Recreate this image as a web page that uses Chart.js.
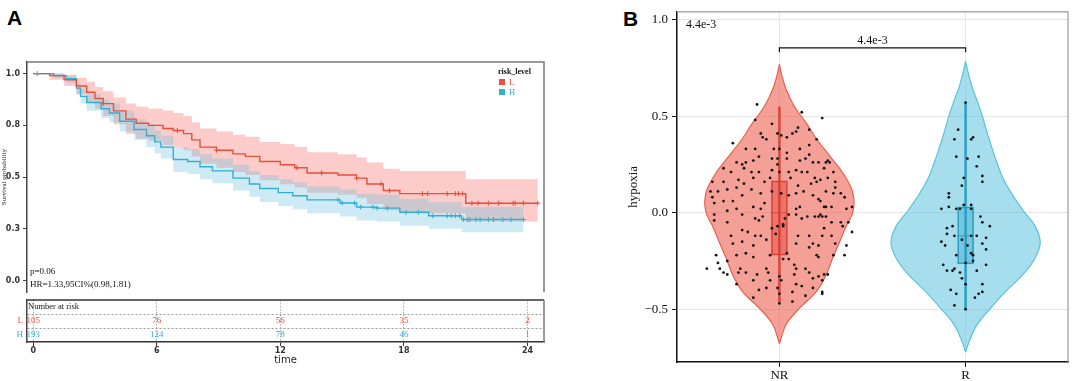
<!DOCTYPE html>
<html lang="en">
<head>
<meta charset="UTF-8">
<title>Risk level survival and hypoxia</title>
<script src="https://cdn.jsdelivr.net/npm/chart.js@4"></script>
<style>
  body { margin: 0; background: #fff; width: 1072px; height: 381px; position: relative; overflow: hidden; }
  canvas { position: absolute; }
  .panel { position: absolute; font: bold 21px "Liberation Sans", Arial, sans-serif; line-height: 21px; color: #000; }
</style>
</head>
<body>
<div class="panel" style="left:7px;top:7px">A</div>
<div class="panel" style="left:623px;top:8px">B</div>
<canvas id="km" width="560" height="300" style="left:0;top:0"></canvas>
<canvas id="risk" width="560" height="83" style="left:0;top:298px"></canvas>
<canvas id="violin" width="492" height="381" style="left:580px;top:0"></canvas>

<script>
// ---------- panel A : survival by risk level ----------
const lowTime  = [0, 0.8, 1.5, 2.1, 2.6, 3.0, 3.4, 3.9, 4.5, 5.0, 5.6, 6.3, 6.8, 7.3, 7.7, 8.1, 8.9, 9.7, 10.3, 11.0, 12.0, 12.7, 13.3, 14.8, 15.7, 16.2, 17.0, 17.8, 21.0, 24.5];
const lowSurv  = [1, 0.99, 0.97, 0.94, 0.91, 0.88, 0.855, 0.82, 0.78, 0.76, 0.75, 0.735, 0.725, 0.71, 0.68, 0.645, 0.63, 0.612, 0.6, 0.575, 0.56, 0.545, 0.52, 0.51, 0.495, 0.467, 0.435, 0.42, 0.374, 0.374];
const lowUpper = [1, 1, 0.995, 0.98, 0.96, 0.935, 0.915, 0.885, 0.855, 0.84, 0.83, 0.82, 0.81, 0.795, 0.765, 0.735, 0.72, 0.705, 0.695, 0.67, 0.66, 0.645, 0.62, 0.61, 0.595, 0.57, 0.54, 0.53, 0.49, 0.49];
const lowLower = [1, 0.97, 0.94, 0.9, 0.86, 0.83, 0.795, 0.755, 0.71, 0.685, 0.675, 0.655, 0.645, 0.63, 0.6, 0.565, 0.545, 0.525, 0.51, 0.485, 0.465, 0.45, 0.425, 0.415, 0.4, 0.37, 0.34, 0.325, 0.285, 0.285];

const highTime  = [0, 1.0, 1.6, 2.1, 2.3, 2.6, 3.3, 3.7, 4.2, 4.9, 5.5, 5.9, 6.2, 6.8, 7.5, 8.1, 8.7, 9.7, 10.5, 11.0, 11.9, 12.6, 13.3, 14.9, 15.7, 16.7, 17.8, 19.2, 20.8, 23.8];
const highSurv  = [1, 0.99, 0.975, 0.93, 0.89, 0.86, 0.83, 0.81, 0.77, 0.73, 0.7, 0.67, 0.645, 0.585, 0.575, 0.55, 0.53, 0.495, 0.467, 0.445, 0.425, 0.41, 0.39, 0.375, 0.355, 0.35, 0.33, 0.313, 0.295, 0.295];
const highUpper = [1, 1, 0.99, 0.955, 0.925, 0.9, 0.875, 0.855, 0.82, 0.78, 0.755, 0.725, 0.7, 0.645, 0.635, 0.61, 0.59, 0.56, 0.53, 0.51, 0.49, 0.475, 0.455, 0.44, 0.42, 0.415, 0.395, 0.378, 0.355, 0.355];
const highLower = [1, 0.98, 0.955, 0.9, 0.855, 0.82, 0.785, 0.765, 0.72, 0.68, 0.645, 0.615, 0.59, 0.525, 0.515, 0.49, 0.47, 0.435, 0.405, 0.38, 0.36, 0.345, 0.325, 0.31, 0.29, 0.285, 0.265, 0.25, 0.234, 0.234];

// censored observations (+ marks)
const lowCensorTime  = [3.4, 7.0, 8.9, 12.8, 14.0, 15.7, 16.9, 17.3, 18.9, 19.15, 20.1, 20.5, 20.65, 20.85, 21.3, 21.6, 22.1, 22.6, 23.3, 23.4, 23.8, 24.5];
const lowCensorSurv  = [0.855, 0.725, 0.63, 0.545, 0.52, 0.495, 0.467, 0.435, 0.42, 0.42, 0.42, 0.42, 0.42, 0.42, 0.374, 0.374, 0.374, 0.374, 0.374, 0.374, 0.374, 0.374];
const highCensorTime = [0.2, 14.8, 15.0, 15.6, 15.9, 16.5, 16.7, 17.2, 18.1, 18.7, 19.4, 20.1, 20.3, 20.5, 20.7, 20.9, 21.1, 21.2, 21.5, 21.7, 22.1, 22.35, 22.8, 23.2, 23.8];
const highCensorSurv = [1, 0.39, 0.375, 0.375, 0.355, 0.355, 0.35, 0.35, 0.33, 0.33, 0.313, 0.313, 0.313, 0.313, 0.313, 0.295, 0.295, 0.295, 0.295, 0.295, 0.295, 0.295, 0.295, 0.295, 0.295];

const survTicks = [0, 0.25, 0.5, 0.75, 1];
const survTickLabels = ['0.0', '0.3', '0.5', '0.8', '1.0'];
const timeTicks = [0, 6, 12, 18, 24];
const riskLow  = [105, 76, 56, 35, 2];
const riskHigh = [193, 124, 78, 46, 1];
const riskLevels = ['L', 'H'];

// ---------- panel B : hypoxia by response ----------
const groupNames = ['NR', 'R'];
const groupPos = [0, 1];
const hypoxiaTicks = [-0.5, 0, 0.5, 1.0];
const hypoxiaTickLabels = ['\u22120.5', '0.0', '0.5', '1.0'];

const nrViolinY    = [-0.677, -0.662, -0.576, -0.495, -0.409, -0.323, -0.242, -0.157, -0.071, -0.01, 0.045, 0.09, 0.131, 0.212, 0.298, 0.384, 0.465, 0.551, 0.636, 0.717, 0.768];
const nrViolinHalf = [0, 0.005, 0.037, 0.107, 0.198, 0.251, 0.283, 0.321, 0.358, 0.39, 0.401, 0.397, 0.385, 0.337, 0.267, 0.198, 0.144, 0.08, 0.037, 0.011, 0];
const rViolinY     = [-0.722, -0.662, -0.576, -0.495, -0.409, -0.323, -0.242, -0.157, -0.071, 0.01, 0.095, 0.18, 0.26, 0.34, 0.42, 0.5, 0.58, 0.65, 0.717, 0.783];
const rViolinHalf  = [0, 0.021, 0.064, 0.134, 0.214, 0.305, 0.369, 0.401, 0.374, 0.31, 0.25, 0.2, 0.168, 0.14, 0.114, 0.09, 0.062, 0.035, 0.016, 0];

// box: [q1, median, q3], whisker: [low, high]
const nrBox = [-0.22, 0.0, 0.165];
const nrWhisker = [-0.47, 0.55];
const rBox = [-0.265, -0.12, 0.03];
const rWhisker = [-0.5, 0.57];
const bracketY = [0.83, 0.853];
const pLabel = '4.4e-3';

// jittered samples: [offset from group centre, hypoxia]
const nrPoints = [
  [-0.12,0.56],[-0.13,0.48],[-0.25,0.36],[-0.04,0.46],[-0.01,0.41],[-0.10,0.41],[-0.09,0.39],[-0.07,0.38],[0.01,0.40],[0.04,0.39],
  [0.07,0.41],[0.09,0.42],[0.10,0.44],[0.12,0.52],[0.16,0.43],[0.20,0.38],[0.23,0.49],[-0.18,0.33],[-0.13,0.33],[-0.03,0.33],
  [0.00,0.33],[0.04,0.31],[0.11,0.33],[0.16,0.35],[0.16,0.30],[-0.23,0.26],[-0.18,0.26],[-0.14,0.27],[-0.11,0.29],[-0.04,0.28],
  [-0.01,0.28],[0.04,0.28],[0.11,0.27],[0.14,0.28],[0.18,0.26],[0.21,0.26],[0.25,0.26],[-0.20,0.25],[-0.30,0.23],[-0.26,0.21],
  [-0.19,0.23],[-0.15,0.21],[-0.11,0.21],[-0.04,0.22],[-0.01,0.25],[0.00,0.21],[0.05,0.21],[0.09,0.22],[0.12,0.21],[0.15,0.21],
  [0.19,0.18],[0.22,0.17],[0.24,0.23],[-0.36,0.16],[-0.30,0.16],[-0.22,0.17],[-0.19,0.15],[-0.14,0.18],[-0.08,0.16],[-0.05,0.18],
  [0.06,0.18],[0.10,0.14],[0.17,0.15],[0.20,0.16],[0.26,0.18],[-0.37,0.11],[-0.33,0.11],[-0.28,0.12],[-0.23,0.13],[-0.20,0.09],
  [-0.15,0.12],[-0.10,0.10],[-0.04,0.11],[0.01,0.10],[0.05,0.09],[0.09,0.10],[0.13,0.11],[0.18,0.09],[0.21,0.07],[0.25,0.11],
  [-0.36,0.08],[-0.30,0.06],[-0.25,0.06],[-0.35,0.05],[-0.28,0.01],[-0.35,-0.01],[-0.35,-0.04],[-0.28,-0.05],[-0.23,0.02],[-0.20,-0.01],
  [-0.14,0.03],[-0.13,-0.03],[-0.10,0.02],[-0.11,-0.04],[-0.08,0.05],[-0.09,-0.02],[-0.04,-0.08],[-0.01,-0.07],[0.02,-0.07],[0.03,-0.03],
  [0.05,-0.01],[0.09,0.02],[0.11,0.03],[0.09,-0.01],[0.12,-0.03],[0.15,-0.02],[0.19,-0.02],[0.21,-0.02],[0.24,0.03],[-0.26,-0.12],
  [-0.20,-0.09],[-0.17,-0.10],[-0.13,-0.12],[-0.10,-0.12],[-0.02,-0.11],[0.02,-0.06],[0.10,-0.12],[0.16,-0.12],[0.18,-0.16],[-0.25,-0.16],
  [-0.20,-0.15],[-0.14,-0.17],[-0.07,-0.14],[0.09,-0.16],[-0.23,-0.22],[-0.18,-0.21],[-0.14,-0.23],[-0.05,-0.22],[0.02,-0.24],[0.04,-0.21],
  [0.05,-0.24],[0.16,-0.18],[0.20,-0.22],[-0.34,-0.22],[-0.33,-0.26],[-0.28,-0.25],[-0.39,-0.29],[-0.32,-0.29],[-0.30,-0.31],[-0.28,-0.32],
  [-0.21,-0.29],[-0.22,-0.31],[-0.18,-0.31],[-0.14,-0.35],[-0.12,-0.32],[-0.07,-0.29],[-0.06,-0.31],[-0.05,-0.35],[0.00,-0.33],[0.01,-0.35],
  [0.08,-0.27],[0.09,-0.29],[0.08,-0.32],[0.14,-0.29],[0.16,-0.31],[0.18,-0.34],[0.21,-0.33],[0.24,-0.32],[-0.23,-0.37],[-0.11,-0.40],
  [-0.07,-0.39],[-0.01,-0.39],[0.07,-0.41],[0.00,-0.42],[0.09,-0.37],[0.12,-0.38],[0.18,-0.39],[0.23,-0.41],[-0.14,-0.44],[0.00,-0.47],
  [0.07,-0.46],[0.14,-0.43],[0.26,0.27],[0.27,0.26],[0.29,0.21],[0.30,0.16],[0.30,0.13],[0.29,0.10],[0.33,0.10],[0.35,0.08],
  [0.22,0.06],[0.25,0.03],[0.28,0.03],[0.22,-0.01],[0.23,-0.02],[0.25,-0.02],[0.28,-0.05],[0.33,-0.05],[0.36,0.02],[0.39,0.03],
  [0.37,-0.05],[0.34,-0.07],[0.24,-0.08],[0.39,-0.10],[0.23,-0.12],[0.28,-0.12],[0.30,-0.16],[0.36,-0.17],[0.29,-0.22],[0.35,-0.22],
  [0.21,-0.23],[0.26,-0.32],[0.23,-0.35],[0.23,-0.42],[0.21,-0.17]
];
const rPoints = [
  [0.00,0.57],[-0.04,0.43],[-0.06,0.38],[0.03,0.38],[0.04,0.39],[-0.05,0.29],[0.01,0.28],[0.07,0.29],[0.06,0.24],[-0.01,0.18],
  [0.09,0.19],[0.09,0.16],[-0.02,0.14],[-0.09,0.10],[-0.09,0.08],[-0.13,0.02],[-0.09,0.03],[-0.05,0.02],[-0.03,0.02],[-0.01,0.04],
  [0.03,0.02],[0.08,-0.02],[0.09,-0.05],[0.13,-0.07],[-0.10,-0.08],[-0.07,-0.07],[-0.10,-0.11],[-0.06,-0.12],[-0.02,-0.14],[0.03,-0.12],
  [0.06,-0.12],[0.11,-0.13],[-0.13,-0.15],[-0.11,-0.17],[0.01,-0.17],[0.09,-0.16],[0.11,-0.19],[-0.05,-0.22],[0.03,-0.21],[0.04,-0.22],
  [-0.12,-0.27],[0.00,-0.26],[0.04,-0.25],[0.11,-0.27],[-0.10,-0.30],[-0.07,-0.30],[-0.06,-0.29],[-0.03,-0.31],[0.06,-0.30],[-0.02,-0.34],
  [0.00,-0.37],[0.09,-0.37],[-0.08,-0.40],[-0.05,-0.42],[0.09,-0.41],[0.07,-0.42],[0.05,-0.44],[-0.06,-0.48],[0.00,-0.50],[0.03,0.04]
];

const RED = '#E8503F';
const BLUE = '#35AED3';
const serif = '"Liberation Serif", "Times New Roman", serif';
const sans = '"DejaVu Sans", sans-serif';

Chart.defaults.animation = false;
Chart.defaults.responsive = false;
Chart.defaults.devicePixelRatio = 1;
Chart.defaults.events = [];
Chart.defaults.plugins.legend.display = false;
Chart.defaults.plugins.tooltip.enabled = false;

const pts = (xs, ys) => xs.map((x, i) => ({x: x, y: ys[i]}));

// ---------- KM curves ----------
const kmDecor = {
  id: 'kmDecor',
  afterDraw(chart) {
    const {ctx, chartArea: a} = chart;
    ctx.save();
    ctx.strokeStyle = '#7a7a7a';
    ctx.lineWidth = 1.5;
    ctx.beginPath();
    ctx.moveTo(a.left, a.top);
    ctx.lineTo(a.right, a.top);
    ctx.lineTo(a.right, a.bottom);
    ctx.stroke();

    ctx.fillStyle = '#111';
    ctx.font = '9px ' + serif;
    ctx.textAlign = 'left';
    ctx.textBaseline = 'middle';
    ctx.fillText('p=0.06', a.left + 3, a.bottom - 21);
    ctx.fillText('HR=1.33,95CI%(0.98,1.81)', a.left + 3, a.bottom - 8);

    // legend
    const lx = a.right - 46;
    ctx.font = 'bold 8px ' + serif;
    ctx.fillText('risk_level', lx, a.top + 10);
    ctx.font = '8.5px ' + serif;
    [RED, BLUE].forEach((c, i) => {
      ctx.fillStyle = c;
      ctx.fillRect(lx + 1, a.top + 17 + i * 10, 6, 6);
      ctx.fillText(riskLevels[i], lx + 11, a.top + 20.5 + i * 10);
    });
    ctx.restore();
  }
};

new Chart(document.getElementById('km'), {
  type: 'scatter',
  data: {
    datasets: [
      {data: pts(lowTime, lowUpper), showLine: true, stepped: 'before', borderWidth: 0, pointRadius: 0,
       fill: '+1', backgroundColor: 'rgba(244,115,105,0.36)', order: 10},
      {data: pts(lowTime, lowLower), showLine: true, stepped: 'before', borderWidth: 0, pointRadius: 0, fill: false, order: 10},
      {data: pts(highTime, highUpper), showLine: true, stepped: 'before', borderWidth: 0, pointRadius: 0,
       fill: '+1', backgroundColor: 'rgba(105,190,222,0.33)', order: 9},
      {data: pts(highTime, highLower), showLine: true, stepped: 'before', borderWidth: 0, pointRadius: 0, fill: false, order: 9},
      {data: pts(highTime, highSurv), showLine: true, stepped: 'before', borderColor: BLUE, borderWidth: 1.4, pointRadius: 0, order: 3},
      {data: pts(lowTime, lowSurv), showLine: true, stepped: 'before', borderColor: RED, borderWidth: 1.4, pointRadius: 0, order: 2},
      {data: pts(highCensorTime, highCensorSurv), pointStyle: 'cross', pointRadius: 2.5, borderColor: BLUE, borderWidth: 1, order: 1},
      {data: pts(lowCensorTime, lowCensorSurv), pointStyle: 'cross', pointRadius: 2.5, borderColor: RED, borderWidth: 1, order: 1}
    ]
  },
  options: {
    layout: {padding: {top: 62, right: 16, left: 0, bottom: 0}},
    scales: {
      x: {type: 'linear', min: -0.3, max: 24.8, display: false},
      y: {
        min: -0.056, max: 1.056,
        afterBuildTicks: s => { s.ticks = survTicks.map(v => ({value: v})); },
        ticks: {callback: (v, i) => survTickLabels[i], font: {family: sans, size: 8, weight: 'bold'}, color: '#333', padding: 3},
        grid: {drawOnChartArea: false, tickLength: 4, color: '#444'},
        border: {color: '#444', width: 1.5},
        title: {display: true, text: 'Survival probability', font: {family: serif, size: 7}, color: '#222', padding: 0},
        afterFit: s => { s.width = 27; }
      }
    }
  },
  plugins: [kmDecor]
});

// ---------- number at risk table ----------
const riskDecor = {
  id: 'riskDecor',
  afterDraw(chart) {
    const {ctx, chartArea: a, scales: {x, y}} = chart;
    ctx.save();
    ctx.lineWidth = 1.5;
    ctx.strokeStyle = '#333';
    ctx.beginPath();
    ctx.moveTo(a.left, a.top);
    ctx.lineTo(a.right, a.top);
    ctx.stroke();
    ctx.strokeStyle = '#7a7a7a';
    ctx.beginPath();
    ctx.moveTo(a.right, a.top);
    ctx.lineTo(a.right, a.bottom);
    ctx.stroke();

    ctx.textBaseline = 'middle';
    ctx.textAlign = 'left';
    ctx.fillStyle = '#111';
    ctx.font = '8.5px ' + serif;
    ctx.fillText('Number at risk', a.left + 1, y.getPixelForValue(0.5));

    ctx.font = '9px ' + serif;
    [[riskLow, RED], [riskHigh, BLUE]].forEach(([vals, c], r) => {
      const py = y.getPixelForValue(r + 1.5);
      ctx.fillStyle = c;
      ctx.textAlign = 'right';
      ctx.fillText(riskLevels[r], a.left - 4, py);
      ctx.textAlign = 'center';
      vals.forEach((v, i) => ctx.fillText(String(v), x.getPixelForValue(timeTicks[i]), py));
    });
    ctx.restore();
  }
};

new Chart(document.getElementById('risk'), {
  type: 'scatter',
  data: {datasets: []},
  options: {
    layout: {padding: {top: 2, right: 16, left: 0, bottom: 15}},
    scales: {
      x: {
        type: 'linear', min: -0.3, max: 24.8,
        afterBuildTicks: s => { s.ticks = timeTicks.map(v => ({value: v})); },
        ticks: {font: {family: sans, size: 8, weight: 'bold'}, color: '#333', padding: 0},
        grid: {color: '#b0b0b0', tickColor: '#333', tickLength: 4},
        border: {color: '#333', width: 1.5, dash: [1.5, 1.5]},
        title: {display: true, text: 'time', font: {family: sans, size: 10}, color: '#222', padding: 0},
        afterFit: s => { s.height = 24; }
      },
      y: {
        type: 'linear', min: 0, max: 3, reverse: true,
        afterBuildTicks: s => { s.ticks = [0, 1, 2, 3].map(v => ({value: v})); },
        ticks: {display: false},
        grid: {drawTicks: false, color: c => (c.tick && (c.tick.value === 1 || c.tick.value === 2)) ? '#9a9a9a' : 'rgba(0,0,0,0)'},
        border: {color: '#444', width: 1.5, dash: [2, 2]},
        afterFit: s => { s.width = 27; }
      }
    }
  },
  plugins: [riskDecor]
});

// ---------- violin plot ----------
const violinDecor = {
  id: 'violinDecor',
  afterDraw(chart) {
    const {ctx, chartArea: a, scales: {x, y}} = chart;
    ctx.save();
    ctx.strokeStyle = '#999';
    ctx.lineWidth = 1.2;
    ctx.beginPath();
    ctx.moveTo(a.left, a.top);
    ctx.lineTo(a.right, a.top);
    ctx.lineTo(a.right, a.bottom);
    ctx.stroke();
    ctx.fillStyle = '#111';
    ctx.font = '12px ' + serif;
    ctx.textBaseline = 'middle';
    ctx.textAlign = 'left';
    ctx.fillText(pLabel, a.left + 9, a.top + 13);
    ctx.textAlign = 'center';
    ctx.fillText(pLabel, x.getPixelForValue((groupPos[0] + groupPos[1]) / 2), y.getPixelForValue(bracketY[1]) - 7);
    ctx.restore();
  }
};

function violinSets(center, vy, half, fillColor, edge) {
  return [
    {data: vy.map((v, i) => ({x: center - half[i], y: v})), showLine: true, indexAxis: 'y', tension: 0.35,
     fill: '+1', backgroundColor: fillColor, borderColor: edge, borderWidth: 1.2, pointRadius: 0, order: 6},
    {data: vy.map((v, i) => ({x: center + half[i], y: v})), showLine: true, indexAxis: 'y', tension: 0.35,
     fill: false, borderColor: edge, borderWidth: 1.2, pointRadius: 0, order: 6}
  ];
}
function boxSets(center, box, whisker, fillColor, edge) {
  return [
    {data: [{x: center, y: whisker[0]}, {x: center, y: whisker[1]}], showLine: true, borderColor: edge, borderWidth: 2.5, pointRadius: 0, order: 4},
    {type: 'bar', data: [{x: center, y: [box[0], box[2]]}], barThickness: 16, grouped: false, borderSkipped: false,
     backgroundColor: fillColor, borderColor: edge, borderWidth: 1, order: 3},
    {data: [{x: center - 0.043, y: box[1]}, {x: center + 0.043, y: box[1]}], showLine: true, borderColor: edge, borderWidth: 1, pointRadius: 0, order: 2}
  ];
}

new Chart(document.getElementById('violin'), {
  type: 'scatter',
  data: {
    datasets: [
      ...violinSets(groupPos[0], nrViolinY, nrViolinHalf, 'rgba(236,96,80,0.6)', '#E8604F'),
      ...violinSets(groupPos[1], rViolinY, rViolinHalf, 'rgba(80,190,222,0.5)', '#5CC3DE'),
      ...boxSets(groupPos[0], nrBox, nrWhisker, 'rgba(220,60,50,0.42)', '#D9463A'),
      ...boxSets(groupPos[1], rBox, rWhisker, 'rgba(40,160,195,0.38)', '#2A9FC4'),
      {data: nrPoints.map(p => ({x: groupPos[0] + p[0], y: p[1]})), pointRadius: 1.4, backgroundColor: '#161616', borderWidth: 0, order: 1},
      {data: rPoints.map(p => ({x: groupPos[1] + p[0], y: p[1]})), pointRadius: 1.4, backgroundColor: '#161616', borderWidth: 0, order: 1},
      {data: [{x: groupPos[0], y: bracketY[0]}, {x: groupPos[0], y: bracketY[1]}, {x: groupPos[1], y: bracketY[1]}, {x: groupPos[1], y: bracketY[0]}],
       showLine: true, borderColor: '#111', borderWidth: 1.2, pointRadius: 0, order: 1}
    ]
  },
  options: {
    layout: {padding: {left: 46, right: 2, top: 3, bottom: 0}},
    scales: {
      x: {
        type: 'linear', min: -0.55, max: 1.55, offset: false,
        afterBuildTicks: s => { s.ticks = groupPos.map(v => ({value: v})); },
        ticks: {callback: (v, i) => groupNames[i], font: {family: serif, size: 13}, color: '#111', padding: 1},
        grid: {color: '#e6e6e6', tickColor: '#111', tickLength: 5, offset: false},
        border: {color: '#111', width: 1.5},
        afterFit: s => { s.height = 19; }
      },
      y: {
        type: 'linear', min: -0.773, max: 1.04,
        afterBuildTicks: s => { s.ticks = hypoxiaTicks.map(v => ({value: v})); },
        ticks: {callback: (v, i) => hypoxiaTickLabels[i], font: {family: serif, size: 13}, color: '#111', padding: 4},
        grid: {color: '#e6e6e6', tickColor: '#111', tickLength: 5},
        border: {color: '#111', width: 1.5},
        title: {display: true, text: 'hypoxia', font: {family: serif, size: 13}, color: '#111', padding: 0},
        afterFit: s => { s.width = 51; }
      }
    }
  },
  plugins: [violinDecor]
});
</script>
</body>
</html>
